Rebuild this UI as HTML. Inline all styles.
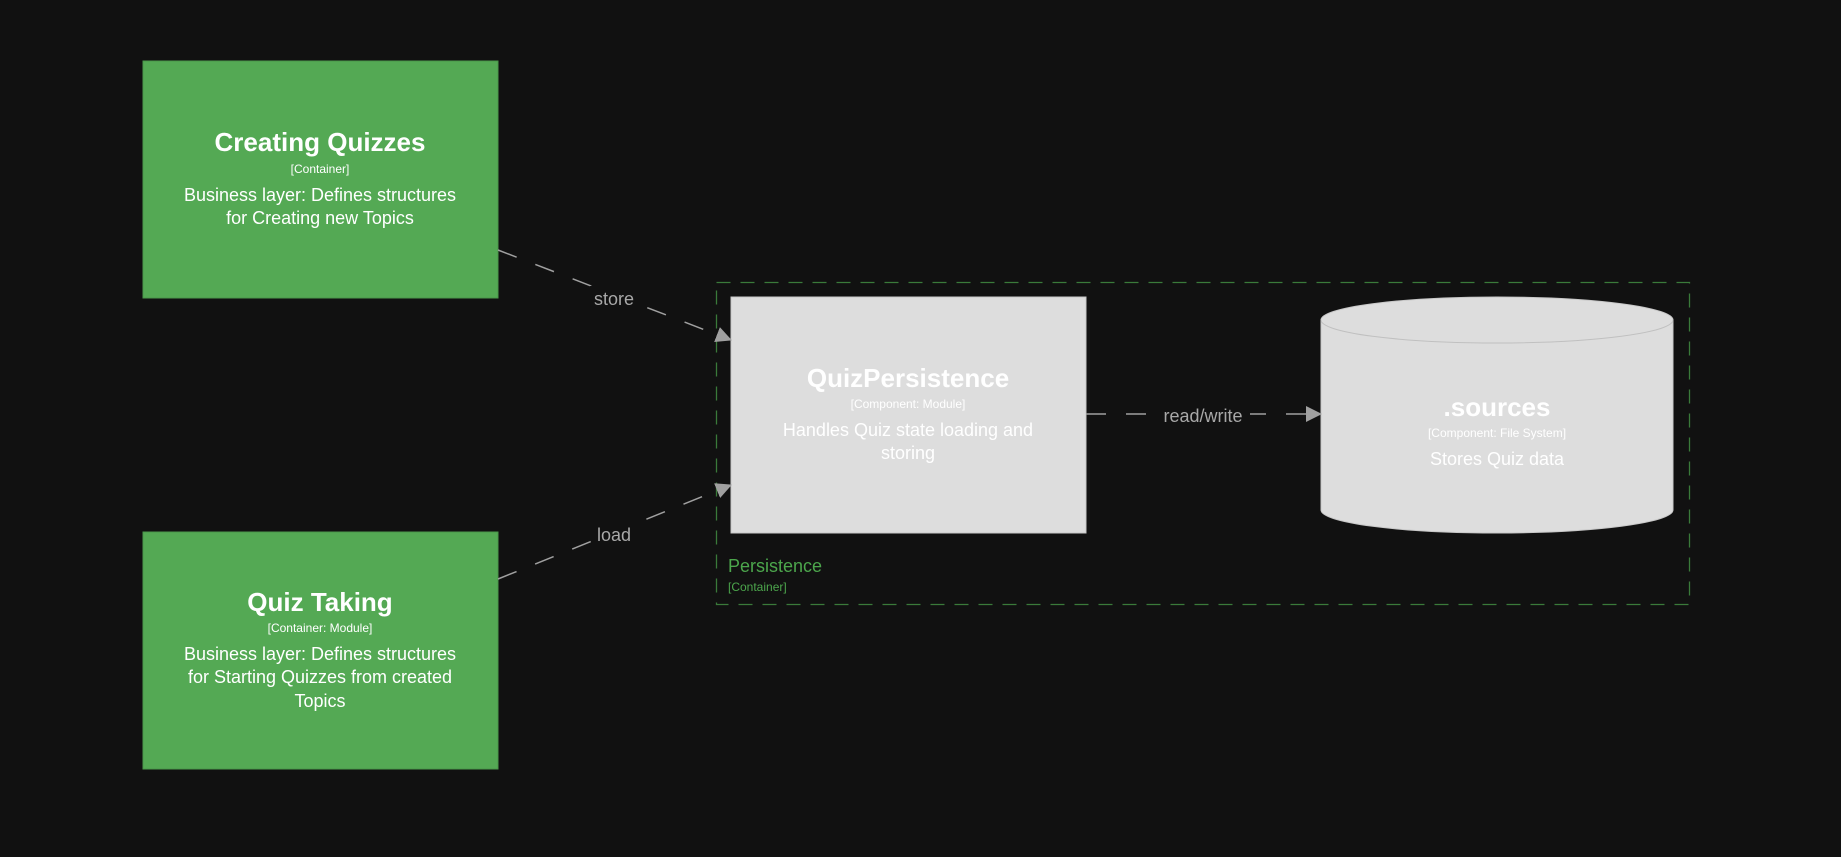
<!DOCTYPE html>
<html><head><meta charset="utf-8"><style>
html,body{margin:0;padding:0;background:#111111;}
svg text{font-family:"Liberation Sans",sans-serif;}
</style></head><body>
<svg width="1841" height="852" xmlns="http://www.w3.org/2000/svg">
<defs>
<marker id="a" markerWidth="16" markerHeight="16" refX="15" refY="8" orient="auto" markerUnits="userSpaceOnUse">
<path d="M0,0 L16,8 L0,16 Z" fill="#a0a0a0"/></marker>
</defs>
<rect x="0" y="0" width="1841" height="852" fill="#111111"/>
<!-- boundary -->
<rect x="716.5" y="282.5" width="973" height="322" fill="none" stroke="#3a7a3a" stroke-width="1.3" stroke-dasharray="14,10"/>
<text x="728" y="572" fill="#4ca64c" font-size="18">Persistence</text>
<text x="728" y="591" fill="#4ca64c" font-size="12">[Container]</text>
<!-- green boxes -->
<rect x="143" y="61" width="355" height="237" fill="#54a954" stroke="#4a964a"/>
<g fill="#fff" text-anchor="middle">
<text x="320" y="151" font-size="26" font-weight="bold">Creating Quizzes</text>
<text x="320" y="173" font-size="12">[Container]</text>
<text x="320" y="201" font-size="18">Business layer: Defines structures</text>
<text x="320" y="224" font-size="18">for Creating new Topics</text>
</g>
<rect x="143" y="532" width="355" height="237" fill="#54a954" stroke="#4a964a"/>
<g fill="#fff" text-anchor="middle">
<text x="320" y="611" font-size="26" font-weight="bold">Quiz Taking</text>
<text x="320" y="632" font-size="12">[Container: Module]</text>
<text x="320" y="660" font-size="18">Business layer: Defines structures</text>
<text x="320" y="683" font-size="18">for Starting Quizzes from created</text>
<text x="320" y="707" font-size="18">Topics</text>
</g>
<!-- QuizPersistence -->
<rect x="731" y="297" width="355" height="236" fill="#dddddd" stroke="#c8c8c8"/>
<g fill="#fff" text-anchor="middle">
<text x="908" y="387" font-size="26" font-weight="bold">QuizPersistence</text>
<text x="908" y="408" font-size="12">[Component: Module]</text>
<text x="908" y="436" font-size="18">Handles Quiz state loading and</text>
<text x="908" y="459" font-size="18">storing</text>
</g>
<!-- cylinder -->
<path d="M1321,320 L1321,510 A176,23 0 0 0 1673,510 L1673,320 A176,23 0 0 0 1321,320 Z" fill="#dddddd" stroke="#c8c8c8"/>
<path d="M1321,320 A176,23 0 0 0 1673,320" fill="none" stroke="#c0c0c0"/>
<g fill="#fff" text-anchor="middle">
<text x="1497" y="416" font-size="26" font-weight="bold">.sources</text>
<text x="1497" y="437" font-size="12">[Component: File System]</text>
<text x="1497" y="465" font-size="18">Stores Quiz data</text>
</g>
<!-- connectors -->
<g stroke="#a0a0a0" stroke-width="1.5" stroke-dasharray="20,20" fill="none">
<line x1="498" y1="250" x2="731" y2="340" marker-end="url(#a)"/>
<line x1="498" y1="579" x2="731" y2="485" marker-end="url(#a)"/>
<line x1="1086" y1="414" x2="1321" y2="414" marker-end="url(#a)"/>
</g>
<g fill="#111111">
<rect x="590" y="286" width="48" height="24"/>
<rect x="594" y="522" width="40" height="24"/>
<rect x="1156" y="404" width="94" height="24"/>
</g>
<g fill="#a8a8a8" font-size="18" text-anchor="middle">
<text x="614" y="305">store</text>
<text x="614" y="541">load</text>
<text x="1203" y="422">read/write</text>
</g>
</svg>
</body></html>
